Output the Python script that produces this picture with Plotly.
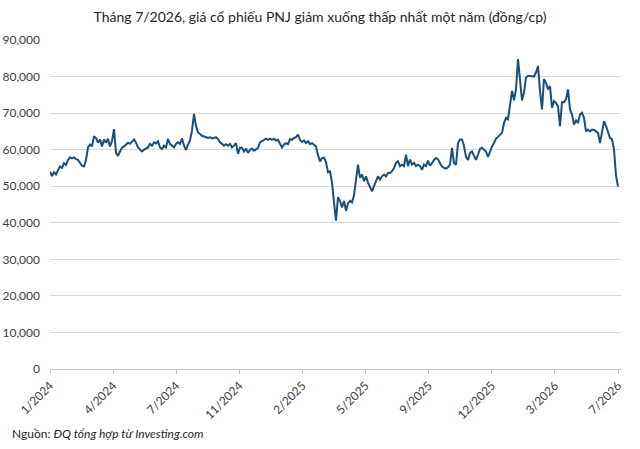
import plotly.graph_objects as go

# PNJ closing price, thousand dong/share at even spacing
price_k = [
    54.0, 52.8, 53.8, 53.2, 54.4, 55.4, 55.0, 56.3, 55.8, 57.2,
    57.9, 57.7, 57.9, 57.4, 57.2, 56.3, 55.6, 55.4, 57.2, 60.6,
    61.4, 60.9, 63.7, 63.2, 61.9, 62.8, 60.9, 62.8, 61.9, 63.0,
    60.9, 62.3, 65.6, 59.2, 58.3, 59.5, 60.5, 60.9, 61.3, 61.9,
    61.6, 62.3, 62.8, 61.9, 60.7, 60.0, 59.5, 60.0, 60.2, 60.6,
    61.6, 61.1, 62.0, 61.7, 62.3, 60.6, 60.2, 61.1, 60.6, 62.9,
    61.6, 61.1, 60.6, 61.6, 62.0, 61.6, 63.1, 61.1, 59.9, 61.4,
    62.5, 65.2, 69.8, 66.5, 64.7, 64.3, 63.8, 63.6, 63.5, 63.2,
    63.4, 63.1, 63.2, 63.4, 62.9, 62.0, 61.6, 61.1, 61.5, 61.1,
    61.6, 60.6, 61.1, 61.8, 58.9, 60.5, 60.5, 59.5, 60.3, 59.1,
    60.0, 60.3, 59.7, 60.2, 60.5, 62.0, 62.3, 62.7, 63.0, 62.7,
    63.0, 62.7, 63.0, 62.5, 62.7, 61.6, 60.6, 61.4, 61.8, 61.5,
    62.9, 62.7, 63.2, 63.4, 64.1, 62.7, 62.1, 62.5, 61.8, 62.3,
    61.5, 61.8, 61.2, 60.9, 58.5, 56.8, 57.7, 57.8, 56.6, 53.8,
    54.1, 51.0, 45.5, 40.6, 47.0, 46.0, 44.2, 46.0, 43.3, 45.3,
    46.0, 45.6, 47.5, 51.5, 55.9, 52.3, 53.2, 51.4, 52.7, 51.0,
    50.0, 48.6, 50.0, 51.4, 52.7, 51.8, 52.7, 53.2, 52.7, 53.6,
    53.6, 54.1, 55.0, 56.4, 56.8, 55.5, 55.9, 55.5, 58.6, 55.5,
    57.3, 55.9, 56.4, 55.5, 55.9, 55.5, 54.5, 55.9, 55.5, 57.0,
    55.6, 56.3, 57.2, 57.7, 57.4, 56.3, 55.4, 55.0, 54.8, 55.2,
    55.9, 60.5, 56.3, 55.9, 61.8, 62.8, 62.8, 61.0, 58.0, 57.2,
    59.1, 59.5, 58.2, 57.2, 58.6, 60.2, 60.5, 60.0, 59.5, 58.0,
    59.5, 60.9, 61.8, 63.0, 63.5, 64.1, 64.6, 67.3, 68.7, 68.3,
    71.9, 76.1, 73.5, 76.5, 84.8, 78.8, 73.5, 75.6, 79.7, 80.2,
    80.2, 80.2, 80.0, 81.1, 82.9, 76.1, 71.0, 79.3, 78.3, 76.5,
    77.4, 71.5, 73.3, 72.8, 71.9, 66.4, 73.0, 73.0, 73.8, 76.5,
    71.0, 69.6, 66.9, 68.0, 67.3, 69.6, 70.1, 68.7, 65.0, 65.5,
    65.0, 65.5, 65.4, 65.0, 64.6, 61.8, 65.5, 67.8, 66.5, 65.0,
    63.2, 62.9, 60.0, 53.0, 49.9,
]
prices = [v * 1000 for v in price_k]

tick_labels = ["1/2024", "4/2024", "7/2024", "11/2024", "2/2025",
               "5/2025", "9/2025", "12/2025", "3/2026", "7/2026"]

n = len(prices)
idx = list(range(n))
step = (n - 1) / (len(tick_labels) - 1)
tick_pos = [i * step for i in range(len(tick_labels))]

fig = go.Figure()
fig.add_trace(
    go.Scatter(x=idx, y=prices, mode="lines",
               line=dict(color="#1b4f7a", width=2), hoverinfo="y")
)

fig.update_layout(
    width=640, height=449,
    margin=dict(l=50, r=19, t=40, b=80, autoexpand=False),
    paper_bgcolor="white", plot_bgcolor="white",
    showlegend=False,
    font=dict(family="Lato, Noto Sans, sans-serif", size=12, color="#404040"),
    title=dict(
        text="Tháng 7/2026, giá cổ phiếu PNJ giảm xuống thấp nhất một năm (đồng/cp)",
        x=0.5, xanchor="center", y=0.963, yanchor="middle",
        font=dict(family="Lato, Noto Sans, sans-serif", size=14, color="#262626"),
    ),
    xaxis=dict(
        range=[0, (n - 1) * 571 / 568], automargin=False,
        tickvals=tick_pos, ticktext=tick_labels, tickangle=-45,
        showgrid=False, zeroline=False,
        showline=True, linecolor="#c8c8c8", linewidth=1,
        ticks="outside", ticklen=4, tickcolor="#c8c8c8",
        tickfont=dict(size=12, color="#404040"),
    ),
    yaxis=dict(
        range=[0, 90000], dtick=10000, tickformat=",", automargin=False,
        showgrid=True, gridcolor="#d9d9d9", gridwidth=1,
        zeroline=False, showline=False, ticks="",
        ticklabelstandoff=9,
        tickfont=dict(size=12, color="#404040"),
    ),
)

fig.add_annotation(
    text="Nguồn: <i>ĐQ tổng hợp từ Investing.com</i>",
    xref="paper", yref="paper", x=-0.07, y=-0.195,
    xanchor="left", yanchor="middle", showarrow=False,
    font=dict(size=12, color="#262626"),
)

# drop the browser's default body margin so the figure sits at the page corner
fig.write_html("out.html", config={"displayModeBar": False},
               post_script="document.body.style.margin = '0';")
